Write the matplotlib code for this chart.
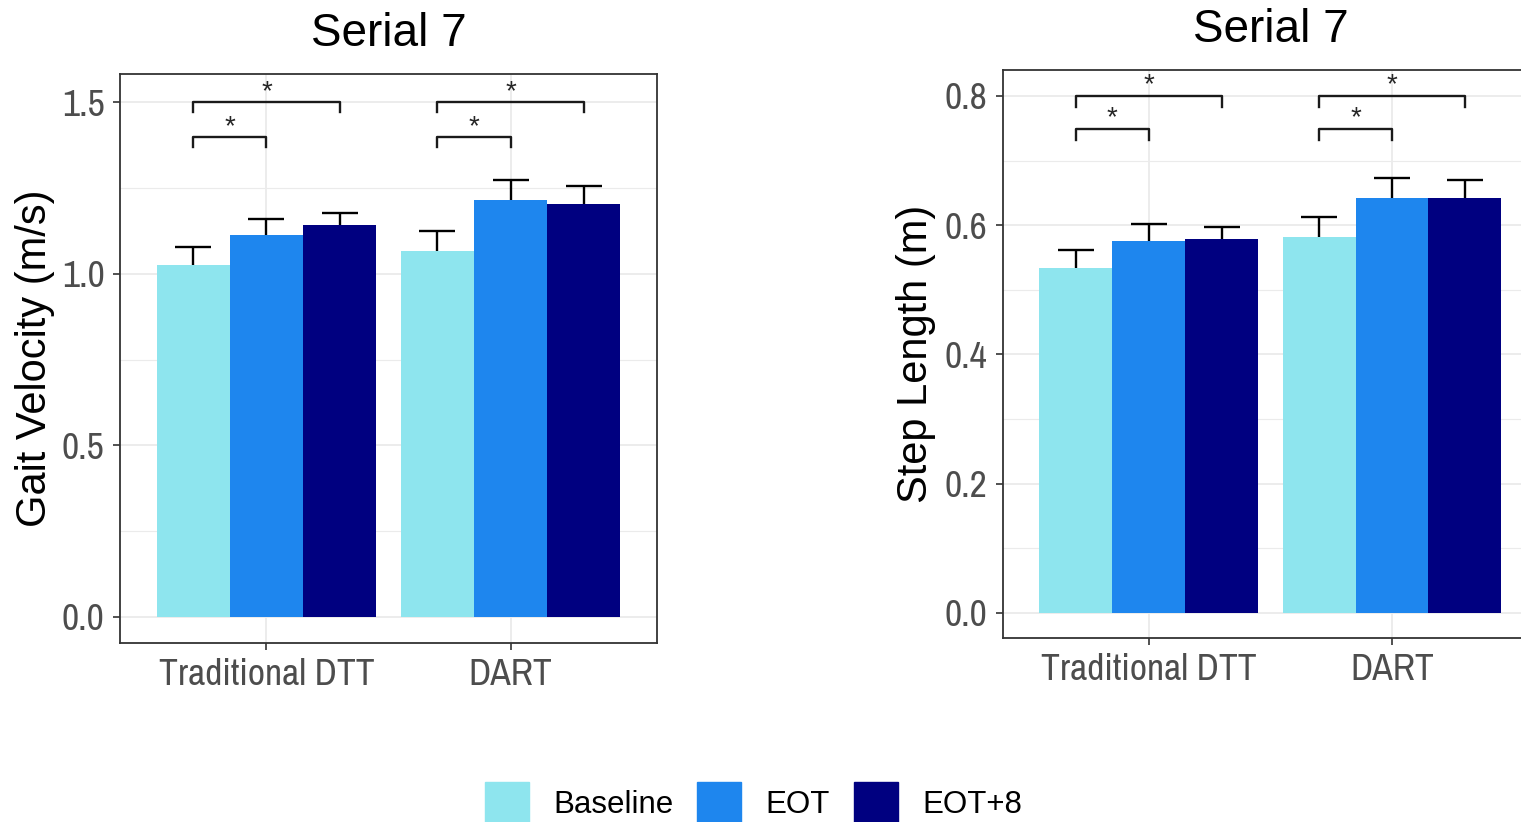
import matplotlib
matplotlib.use("Agg")
import matplotlib.pyplot as plt
import matplotlib.patches as mpatches
from matplotlib import font_manager
import numpy as np

groups = ["Traditional DTT", "DART"]
series = ["Baseline", "EOT", "EOT+8"]
colors = ["#8EE5EE", "#1E86EE", "#000080"]

gait_mean = {"Baseline": [1.026, 1.067], "EOT": [1.114, 1.216], "EOT+8": [1.143, 1.203]}
gait_err = {"Baseline": [0.053, 0.057], "EOT": [0.046, 0.057], "EOT+8": [0.034, 0.052]}
step_mean = {"Baseline": [0.534, 0.582], "EOT": [0.575, 0.642], "EOT+8": [0.579, 0.642]}
step_err = {"Baseline": [0.028, 0.031], "EOT": [0.026, 0.031], "EOT+8": [0.018, 0.028]}

# significance brackets: (from series, to series, y level, tick drop)
gait_brackets = [("Baseline", "EOT+8", 1.50, 0.027), ("Baseline", "EOT", 1.398, 0.027)]
step_brackets = [("Baseline", "EOT+8", 0.800, 0.017), ("Baseline", "EOT", 0.749, 0.017)]

gait_ticks = [0.0, 0.5, 1.0, 1.5]
gait_minor = [0.25, 0.75, 1.25]
step_ticks = [0.0, 0.2, 0.4, 0.6, 0.8]
step_minor = [0.1, 0.3, 0.5, 0.7]

FONT = "Liberation Sans"
names = sorted({f.name for f in font_manager.fontManager.ttflist})
narrow = [n for n in names if ("Narrow" in n or "Condensed" in n)]
if narrow:
    NARROW = [narrow[0], FONT]
    TICK_FS = 27
else:
    NARROW = [FONT]
    TICK_FS = 23.5
plt.rcParams["font.family"] = [FONT, "DejaVu Sans"]

fig = plt.figure(figsize=(15.21, 8.22), dpi=100)
ax1 = fig.add_axes([0.0789, 0.2178, 0.3531, 0.6922])
ax2 = fig.add_axes([0.6594, 0.2238, 0.3517, 0.6910])

bw = 0.3
offsets = {s: (i - 1) * bw for i, s in enumerate(series)}


def draw(ax, means, errs, brackets, ticks, minor, ylim, ylabel, labx):
    x = np.arange(len(groups))
    ax.set_xlim(-0.6, 1.6)
    ax.set_ylim(*ylim)
    for t in ticks + minor:
        ax.axhline(t, color="#EBEBEB", lw=1.3 if t in ticks else 0.8, zorder=0)
    for xi in x:
        ax.axvline(xi, color="#EBEBEB", lw=1.3, zorder=0)
    for s, c in zip(series, colors):
        xs = x + offsets[s]
        ax.errorbar(xs, means[s], yerr=errs[s], fmt="none", ecolor="black",
                    elinewidth=1.7, capsize=13, capthick=1.7, zorder=2)
        ax.bar(xs, means[s], width=bw, color=c, zorder=3)
    for gi in x:
        for a, b, y, d in brackets:
            xa = gi + offsets[a]
            xb = gi + offsets[b]
            ax.plot([xa, xa, xb, xb], [y - d, y, y, y - d], color="#1a1a1a", lw=1.7, zorder=4)
            ax.annotate("*", xy=((xa + xb) / 2, y), xytext=(0, 7.5),
                        textcoords="offset points", ha="center", va="center",
                        fontsize=20, color="#262626", zorder=4)
    ax.set_xticks(x)
    ax.set_xticklabels(groups, family=NARROW, fontsize=TICK_FS, color="#4D4D4D")
    ax.set_yticks(ticks)
    ax.set_yticklabels([f"{t:.1f}" for t in ticks], family=NARROW, fontsize=TICK_FS,
                       color="#4D4D4D")
    ax.tick_params(length=5, width=1.2, color="#333333", pad=6)
    for sp in ax.spines.values():
        sp.set_color("#333333")
        sp.set_linewidth(1.3)
    ax.set_ylabel(ylabel, fontsize=30, color="black")
    ax.yaxis.set_label_coords(labx, 0.5)
    ax.set_title("Serial 7", fontsize=33, pad=20)


draw(ax1, gait_mean, gait_err, gait_brackets, gait_ticks, gait_minor,
     (-0.076, 1.583), "Gait Velocity (m/s)", -0.121)
draw(ax2, step_mean, step_err, step_brackets, step_ticks, step_minor,
     (-0.039, 0.840), "Step Length (m)", -0.125)

handles = [mpatches.Patch(color=c, label=s) for s, c in zip(series, colors)]
fig.legend(handles=handles, loc="center", bbox_to_anchor=(0.4955, 0.024), ncol=3,
           frameon=False, fontsize=22.5, handlelength=1.41, handleheight=1.59,
           handletextpad=0.78, columnspacing=0.75, borderaxespad=0)

fig.savefig("out.png", dpi=100)
